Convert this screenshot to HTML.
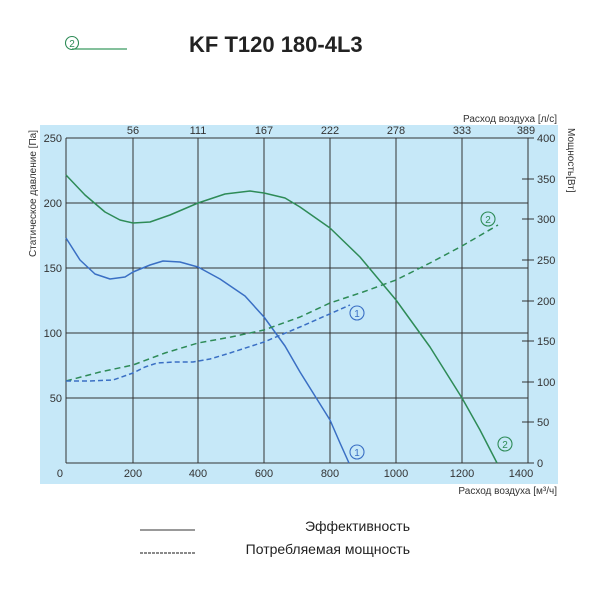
<!DOCTYPE html>
<html><head><meta charset="utf-8"><style>
html,body{margin:0;padding:0;background:#fff;width:600px;height:589px;overflow:hidden}
svg text{font-family:"Liberation Sans",sans-serif}
</style></head><body>
<svg width="600" height="589" viewBox="0 0 600 589" xmlns="http://www.w3.org/2000/svg">
<circle cx="72" cy="43" r="6.5" fill="none" stroke="#2e8b57" stroke-width="1.1"/>
<text x="72" y="47" font-size="10" fill="#2e8b57" text-anchor="middle">2</text>
<line x1="72" y1="49" x2="127" y2="49" stroke="#3a9a60" stroke-width="1.2"/>
<text x="189" y="52" font-size="22" font-weight="bold" fill="#222">KF T120 180-4L3</text>
<rect x="40" y="125" width="518" height="359" fill="#c6e8f8"/>
<g stroke="#333" stroke-width="1">
<line x1="66" y1="138" x2="528" y2="138"/>
<line x1="66" y1="203" x2="528" y2="203"/>
<line x1="66" y1="268" x2="528" y2="268"/>
<line x1="66" y1="333" x2="528" y2="333"/>
<line x1="66" y1="398" x2="528" y2="398"/>
<line x1="66" y1="463" x2="528" y2="463"/>
<line x1="66" y1="138" x2="66" y2="463"/>
<line x1="133" y1="138" x2="133" y2="463"/>
<line x1="198" y1="138" x2="198" y2="463"/>
<line x1="264" y1="138" x2="264" y2="463"/>
<line x1="330" y1="138" x2="330" y2="463"/>
<line x1="396" y1="138" x2="396" y2="463"/>
<line x1="462" y1="138" x2="462" y2="463"/>
<line x1="528" y1="138" x2="528" y2="463"/>
<line x1="522" y1="179" x2="534" y2="179"/><line x1="522" y1="219" x2="534" y2="219"/>
<line x1="522" y1="260" x2="534" y2="260"/><line x1="522" y1="301" x2="534" y2="301"/>
<line x1="522" y1="341" x2="534" y2="341"/><line x1="522" y1="382" x2="534" y2="382"/>
<line x1="522" y1="422" x2="534" y2="422"/><line x1="522" y1="463" x2="534" y2="463"/><line x1="522" y1="138" x2="534" y2="138"/>
</g>
<g font-size="11" fill="#333" text-anchor="end">
<text x="62" y="142">250</text><text x="62" y="207">200</text><text x="62" y="272">150</text>
<text x="62" y="337">100</text><text x="62" y="402">50</text><text x="63" y="477">0</text>
</g>
<g font-size="11" fill="#333" text-anchor="middle">
<text x="133" y="477">200</text><text x="198" y="477">400</text><text x="264" y="477">600</text>
<text x="330" y="477">800</text><text x="396" y="477">1000</text><text x="462" y="477">1200</text><text x="521" y="477">1400</text>
<text x="133" y="134">56</text><text x="198" y="134">111</text><text x="264" y="134">167</text>
<text x="330" y="134">222</text><text x="396" y="134">278</text><text x="462" y="134">333</text><text x="526" y="134">389</text>
</g>
<g font-size="11" fill="#333">
<text x="537" y="142">400</text><text x="537" y="183">350</text><text x="537" y="223">300</text>
<text x="537" y="264">250</text><text x="537" y="305">200</text><text x="537" y="345">150</text>
<text x="537" y="386">100</text><text x="537" y="426">50</text><text x="537" y="467">0</text>
</g>
<text x="557" y="122" font-size="10" fill="#333" text-anchor="end">Расход воздуха [л/с]</text>
<text x="557" y="494" font-size="10" fill="#333" text-anchor="end">Расход воздуха [м³/ч]</text>
<text transform="translate(36,130) rotate(-90)" font-size="10" fill="#333" text-anchor="end">Статическое давление [Па]</text>
<text transform="translate(568,128) rotate(90)" font-size="10" fill="#333">Мощность[Вт]</text>
<g fill="none" stroke-width="1.5" stroke-linejoin="round">
<polyline stroke="#2e8b57" points="66,175 85,195 105,212 120,220 133,223 150,222 170,215 198,203 225,194 250,191 264,193 285,198 300,207 330,228 360,257 396,300 430,347 462,398 480,430 497,463"/>
<polyline stroke="#3a6fc4" points="66,238 80,260 95,274 110,279 125,277 133,272 150,265 163,261 180,262 198,267 220,279 245,296 264,317 285,346 300,372 315,396 330,420 340,443 349,463"/>
<polyline stroke="#2e8b57" stroke-dasharray="6,4" points="66,381 100,372 133,365 165,353 198,343 231,337 264,330 300,317 330,303 363,292 396,280 430,263 462,246 498,225"/>
<polyline stroke="#3a6fc4" stroke-dasharray="5,3" points="66,381 90,381 113,380 133,373 145,367 157,363 175,362 193,362 210,359 230,353 264,342 300,327 325,316 350,305"/>
</g>
<g fill="none" stroke-width="1.1">
<circle cx="357" cy="313" r="7" stroke="#3a6fc4"/><circle cx="357" cy="452" r="7" stroke="#3a6fc4"/>
<circle cx="488" cy="219" r="7" stroke="#2e8b57"/><circle cx="505" cy="444" r="7" stroke="#2e8b57"/>
</g>
<g font-size="10" text-anchor="middle">
<text x="357" y="317" fill="#3a6fc4">1</text><text x="357" y="456" fill="#3a6fc4">1</text>
<text x="488" y="223" fill="#2e8b57">2</text><text x="505" y="448" fill="#2e8b57">2</text>
</g>
<line x1="140" y1="530" x2="195" y2="530" stroke="#333" stroke-width="1"/>
<line x1="140" y1="553" x2="195" y2="553" stroke="#444" stroke-width="1.2" stroke-dasharray="3,1"/>
<text x="410" y="531" font-size="14" fill="#222" text-anchor="end">Эффективность</text>
<text x="410" y="554" font-size="14" fill="#222" text-anchor="end">Потребляемая мощность</text>
</svg>
</body></html>
